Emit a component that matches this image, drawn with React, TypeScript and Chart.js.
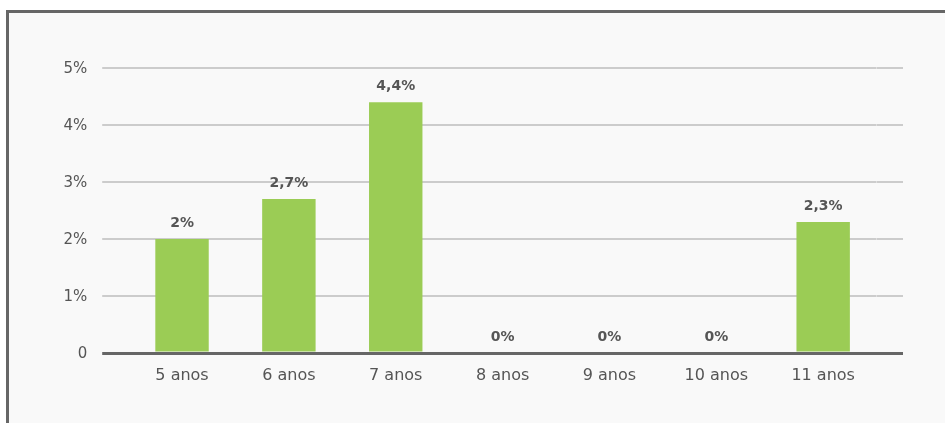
import React, { useEffect, useRef } from "react";
import { Chart, registerables } from "chart.js";

Chart.register(...registerables);

const categories = ["5 anos", "6 anos", "7 anos", "8 anos", "9 anos", "10 anos", "11 anos"];
const values = [2, 2.7, 4.4, 0, 0, 0, 2.3];
const yTicks = [0, 1, 2, 3, 4, 5];

const FONT = "'DejaVu Sans', sans-serif";
const fmt = (v: number) => String(v).replace(".", ",") + "%";

const labelPlugin = {
  id: "barLabels",
  afterDatasetsDraw(chart: any) {
    const ctx = chart.ctx;
    const meta = chart.getDatasetMeta(0);
    ctx.save();
    ctx.font = "bold 14px " + FONT;
    ctx.fillStyle = "#555";
    ctx.textAlign = "center";
    ctx.textBaseline = "middle";
    meta.data.forEach((el: any, i: number) => {
      ctx.fillText(fmt(values[i]), el.x, el.y - 15.5);
    });
    ctx.restore();
  },
};

const gridColor = (c: any) => (c.tick && c.tick.value === 0 ? "#666" : "#cccccc");
const gridWidth = (c: any) => (c.tick && c.tick.value === 0 ? 3 : 2);
const EXT = 26.4;

export default function App() {
  const ref = useRef<HTMLCanvasElement>(null);
  useEffect(() => {
    const chart = new Chart(ref.current!, {
      type: "bar",
      data: {
        labels: categories,
        datasets: [
          {
            data: values,
            backgroundColor: "#9bcc55",
            barPercentage: 0.5,
            categoryPercentage: 1,
          },
        ],
      },
      options: {
        animation: false,
        responsive: false,
        maintainAspectRatio: false,
        layout: { padding: { top: 55, right: 42, bottom: 30, left: 0 } },
        plugins: { legend: { display: false }, tooltip: { enabled: false } },
        scales: {
          x: {
            z: 1,
            grid: { display: false, drawTicks: false },
            border: { color: "#666", width: 3 },
            ticks: { color: "#555", font: { size: 16, family: FONT }, padding: 13 },
            afterFit: (s: any) => { s.height = 40; },
          },
          y: {
            min: 0,
            max: 5,
            afterBuildTicks: (s: any) => { s.ticks = yTicks.map((v) => ({ value: v })); },
            grid: { color: gridColor, lineWidth: gridWidth, tickColor: gridColor, tickWidth: gridWidth, tickLength: EXT, drawTicks: true },
            border: { display: false },
            ticks: {
              color: "#555",
              font: { size: 15, family: FONT },
              padding: 15,
              labelOffset: 1.5,
              callback: (v: any) => (v === 0 ? "0" : v + "%"),
            },
            afterFit: (s: any) => { s.width = 119.6; },
          },
          y2: {
            position: "right",
            min: 0,
            max: 5,
            afterBuildTicks: (s: any) => { s.ticks = yTicks.map((v) => ({ value: v })); },
            grid: { drawOnChartArea: false, color: gridColor, lineWidth: gridWidth, tickColor: gridColor, tickWidth: gridWidth, tickLength: EXT, drawTicks: true },
            border: { display: false },
            ticks: { display: false },
            afterFit: (s: any) => { s.width = EXT; },
          },
        },
      },
      plugins: [labelPlugin],
    });
    return () => chart.destroy();
  }, []);
  return (
    <div
      style={{
        position: "absolute",
        left: 6,
        top: 10,
        width: 960,
        height: 430,
        background: "#f9f9f9",
        borderTop: "3px solid #666",
        borderLeft: "3px solid #666",
      }}
    >
      <canvas ref={ref} width={936} height={410} style={{ display: "block" }} />
    </div>
  );
}
